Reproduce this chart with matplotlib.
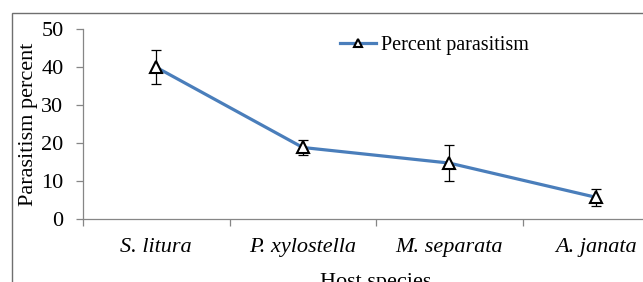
import matplotlib
matplotlib.use("Agg")
import matplotlib.pyplot as plt
import numpy as np
from matplotlib.patches import Rectangle

# values
hosts = ["S. litura", "P. xylostella", "M. separata", "A. janata"]
parasitism = [40.0, 18.9, 14.8, 5.8]
parasitism_err = [4.5, 1.9, 4.7, 2.3]

plt.rcParams['font.family'] = ['Liberation Serif', 'DejaVu Serif']

W, H = 643, 282
fig = plt.figure(figsize=(W / 100, H / 100), dpi=100)

# outer chart frame (only the left and top edges are visible in the crop)
fig.patches.append(Rectangle((12 / W, -0.1), 1.2, 1 - 13 / H + 0.1,
                             transform=fig.transFigure, fill=False,
                             edgecolor='#6f6f6f', linewidth=1.0))

# plot area runs past the right edge of the picture
x0, x1 = 83, 669
y_top, y_bot = 29.3, 219.3
ax = fig.add_axes([x0 / W, (H - y_bot) / H, (x1 - x0) / W, (y_bot - y_top) / H])

x = np.arange(len(hosts))
ax.errorbar(x, parasitism, yerr=parasitism_err, fmt='none', ecolor='black',
            elinewidth=0.9, capsize=3.3, capthick=0.9, zorder=3)
ax.plot(x, parasitism, color='#4a7ebb', linewidth=2.3, marker='^',
        markersize=8, markerfacecolor='white', markeredgecolor='black',
        markeredgewidth=1.5, label='Percent parasitism', zorder=4)

ax.set_xlim(-0.5, len(hosts) - 0.5)
ax.set_ylim(0, 50)
ax.set_yticks(np.arange(0, 51, 10))

ax.set_xticks(x)
ax.set_xticklabels(hosts, style='italic', fontsize=16)
ax.set_xticks(np.arange(-0.5, len(hosts), 1), minor=True)
ax.tick_params(axis='x', which='major', length=0, pad=13.5)
ax.tick_params(axis='x', which='minor', length=5, width=0.9, color='#868686',
               direction='out')
ax.tick_params(axis='y', length=5, width=0.9, color='#868686', pad=9,
               labelsize=16)

for side in ['top', 'right']:
    ax.spines[side].set_visible(False)
for side in ['left', 'bottom']:
    ax.spines[side].set_color('#868686')
    ax.spines[side].set_linewidth(0.9)

ax.set_ylabel('Parasitism percent', fontsize=16)
ax.yaxis.set_label_coords(-0.077, 0.5)
ax.set_xlabel('Host species', fontsize=16)
ax.xaxis.set_label_coords(0.5, -0.285)

fig.legend(loc='center left', bbox_to_anchor=(340 / W, 1 - 45 / H),
           frameon=False, fontsize=14.5, handlelength=1.8,
           handletextpad=0.25, borderpad=0, borderaxespad=0,
           markerscale=0.8)

fig.savefig('out.png', dpi=100)
